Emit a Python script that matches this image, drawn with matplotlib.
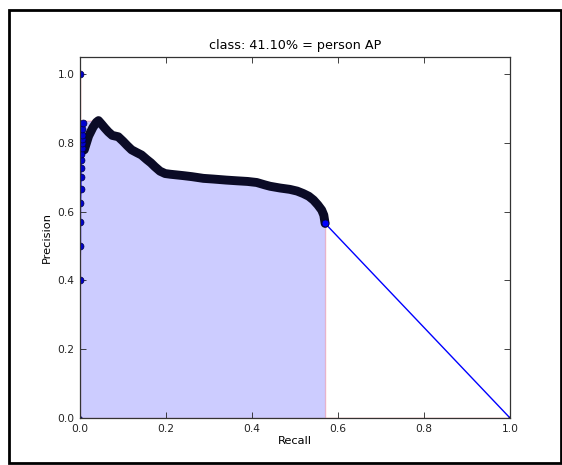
import numpy as np
import matplotlib
matplotlib.use("Agg")
import matplotlib.pyplot as plt
from matplotlib.patches import Rectangle

class_name = "person"
ap = 0.4110

# first detections, all at (almost) zero recall
start_rec = [0.000, 0.000, 0.001, 0.001, 0.001, 0.002, 0.002, 0.002, 0.003, 0.003,
             0.004, 0.004, 0.004, 0.005, 0.005, 0.006]
start_prec = [1.000, 0.400, 0.500, 0.571, 0.625, 0.667, 0.700, 0.727, 0.750, 0.769,
              0.786, 0.800, 0.812, 0.824, 0.840, 0.857]

# rest of the curve (dense part)
curve_rec = [0.007, 0.010, 0.015, 0.020, 0.030, 0.038, 0.043, 0.050, 0.058, 0.066,
             0.075, 0.089, 0.100, 0.110, 0.120, 0.132, 0.143, 0.155, 0.165, 0.174,
             0.186, 0.198, 0.210, 0.225, 0.240, 0.260, 0.287, 0.310, 0.340, 0.364,
             0.390, 0.411, 0.430, 0.442, 0.465, 0.488, 0.505, 0.519, 0.532, 0.543,
             0.553, 0.562, 0.567, 0.570]
curve_prec = [0.800, 0.780, 0.800, 0.820, 0.845, 0.860, 0.865, 0.855, 0.843, 0.832,
              0.822, 0.818, 0.805, 0.792, 0.780, 0.772, 0.765, 0.752, 0.742, 0.731,
              0.718, 0.711, 0.709, 0.707, 0.705, 0.702, 0.697, 0.695, 0.692, 0.690,
              0.688, 0.685, 0.678, 0.674, 0.669, 0.665, 0.660, 0.653, 0.645, 0.634,
              0.620, 0.605, 0.590, 0.566]

rec = start_rec + curve_rec
prec = start_prec + curve_prec

# same trick as the voc ap code: pad with 0/1 and make precision monotone
mrec = [0.0] + rec + [1.0]
mprec = [0.0] + prec + [0.0]
menv = list(np.maximum.accumulate(mprec[::-1])[::-1])

area_x = mrec[:-1] + [mrec[-2]] + [mrec[-1]]
area_y = menv[:-1] + [0.0] + [menv[-1]]

fig = plt.figure(figsize=(5.62, 4.65), dpi=100)
ax = fig.add_axes([80/562, 47/465, 430/562, 361/465])

ax.fill_between(area_x, 0, area_y, alpha=0.2, facecolor='b', edgecolor='r', lw=1)
ax.plot(mrec, mprec, '-', color='b', lw=1)
# the thousands of overlapping markers end up as a dark band
ax.plot(curve_rec, curve_prec, '-', color='#0b0b26', lw=6.4,
        solid_capstyle='round', solid_joinstyle='round')
ax.plot(start_rec, start_prec, 'o', color='#0000d0', mec='#000040', mew=0.5, ms=5)
ax.plot([mrec[0], mrec[-1]], [mprec[0], mprec[-1]], 'o', color='#0000d0', mec='#000040', mew=0.5, ms=2.5)
ax.plot(curve_rec[-1:], curve_prec[-1:], 'o', color='#0000ff', mec='#000040', mew=0.5, ms=5)

ax.set_xlim(0, 1.0)
ax.set_ylim(0, 1.05)
ax.set_xticks([0, 0.2, 0.4, 0.6, 0.8, 1.0])
ax.set_yticks([0, 0.2, 0.4, 0.6, 0.8, 1.0])
ax.tick_params(direction='in', length=4, width=0.6, top=True, right=True,
               labelsize=7.7, colors='#222222', pad=4)
for s in ax.spines.values():
    s.set_color('#333333')
    s.set_linewidth(0.9)

ax.set_title("class: {0:.2f}% = {1} AP".format(ap*100, class_name), fontsize=9.2, pad=6)
ax.set_xlabel("Recall", fontsize=8.2, labelpad=2)
ax.set_ylabel("Precision", fontsize=8.2, labelpad=4)

fig.patches.append(Rectangle((8.5/562, 2.5/465), 552/562, 452/465, transform=fig.transFigure,
                             fill=False, edgecolor='black', lw=2))

fig.savefig("out.png", dpi=100)
